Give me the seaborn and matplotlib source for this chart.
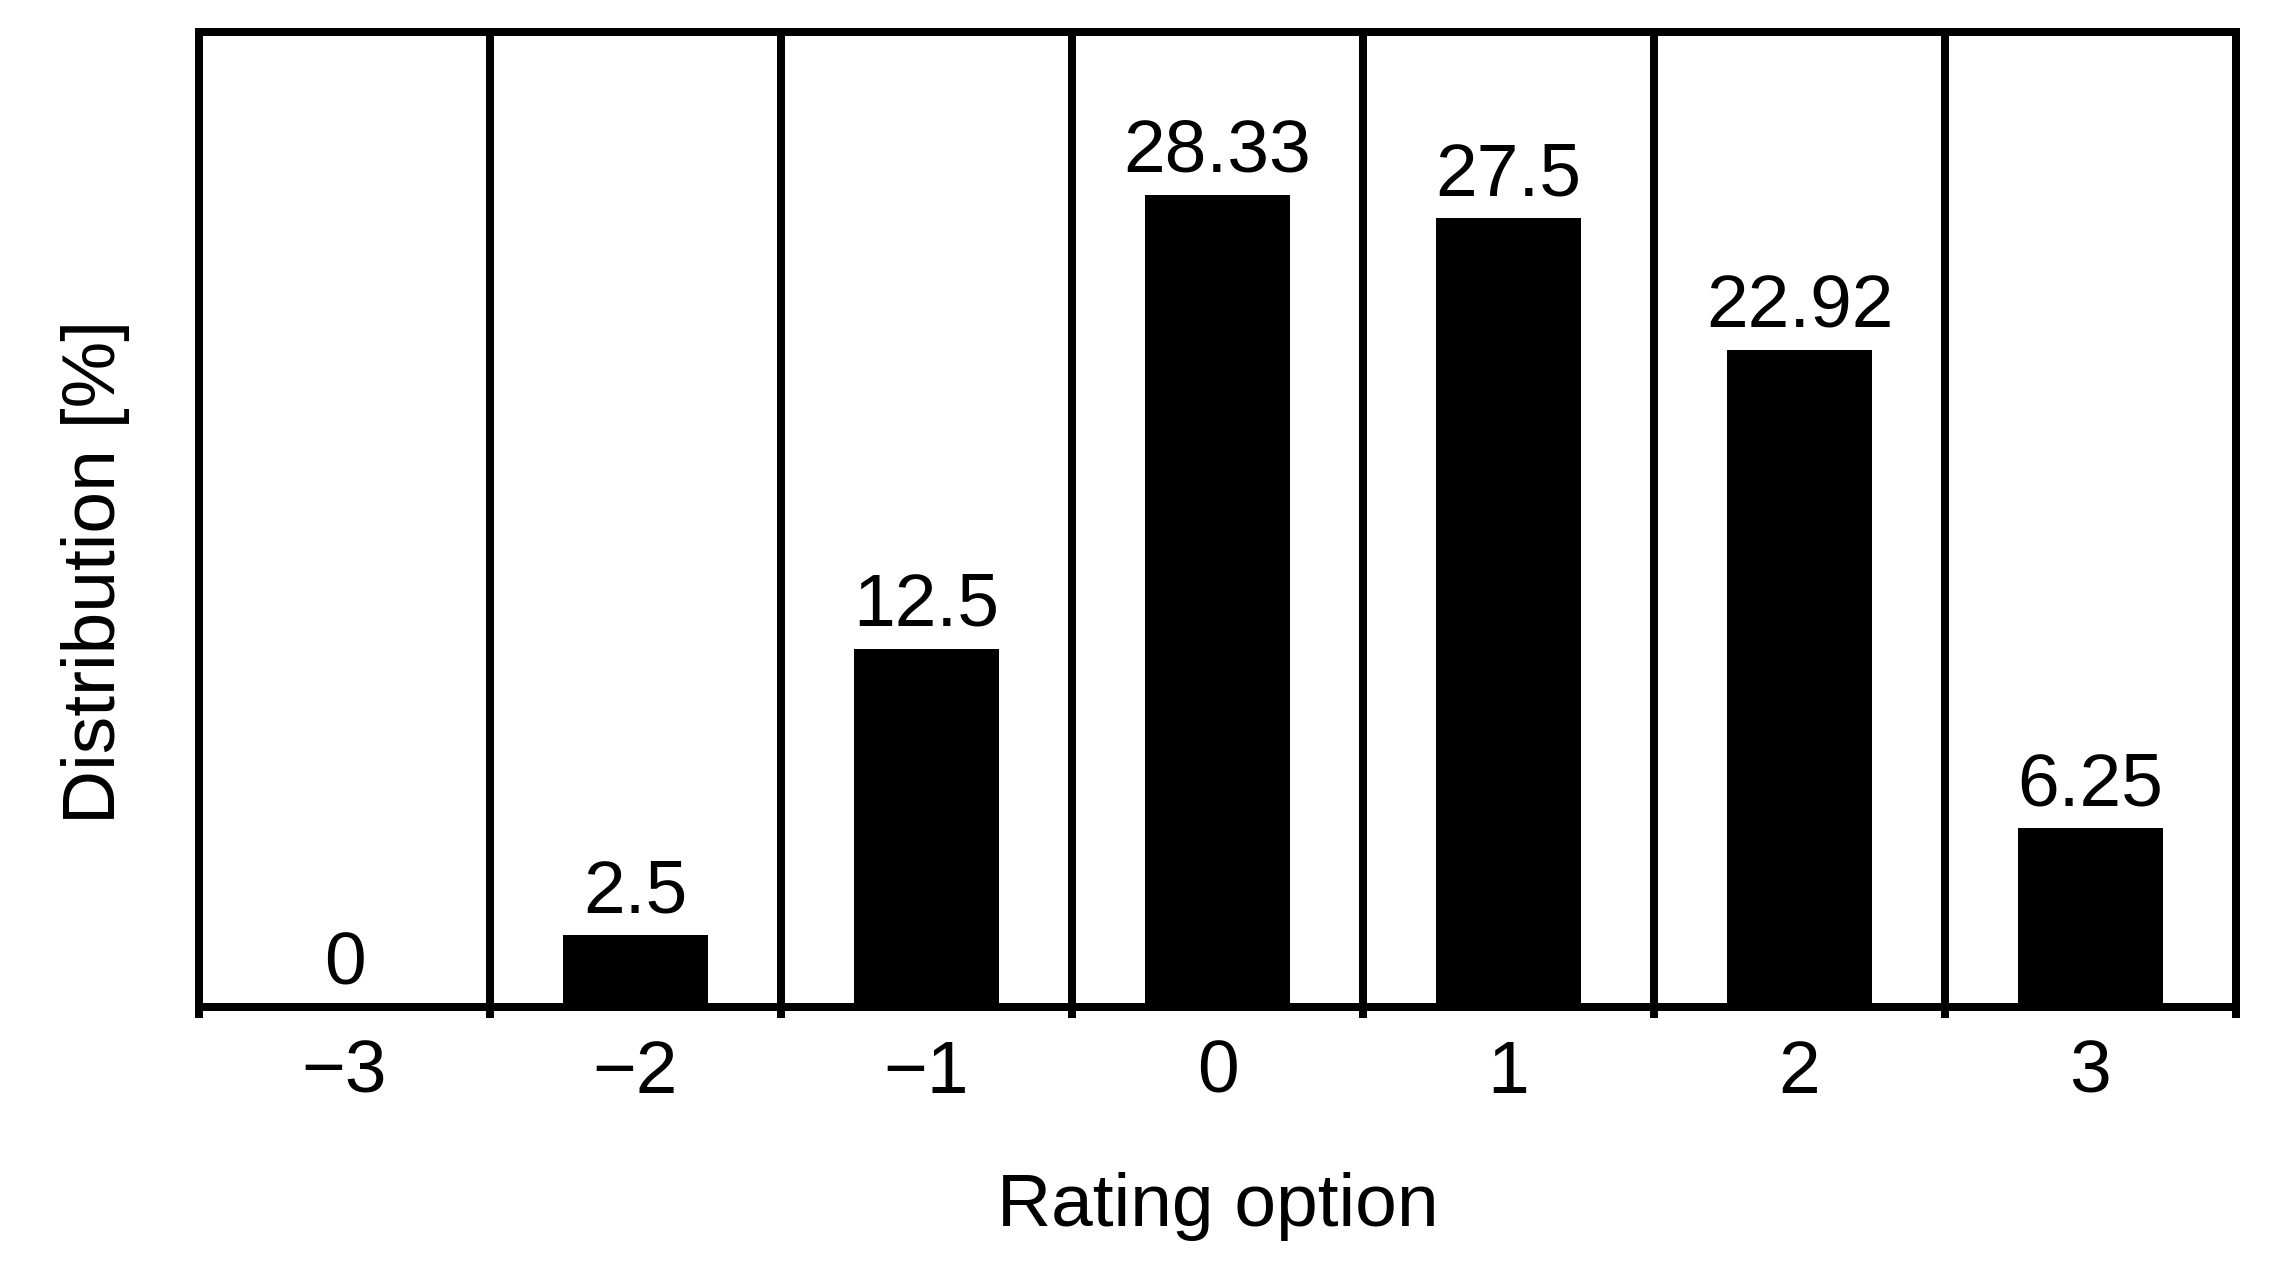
import numpy as np
import pandas as pd
import matplotlib
matplotlib.use("Agg")
import matplotlib.pyplot as plt
import seaborn as sns

# rating options and share of answers (%)
ratings = ["\u22123", "\u22122", "\u22121", "0", "1", "2", "3"]
shares = [0, 2.5, 12.5, 28.33, 27.5, 22.92, 6.25]
share_labels = ["0", "2.5", "12.5", "28.33", "27.5", "22.92", "6.25"]

df = pd.DataFrame({"rating": ratings, "share": shares})

sns.set_theme(style="white")
plt.rcParams["font.family"] = ["Liberation Sans", "DejaVu Sans"]
plt.rcParams["font.size"] = 54
plt.rcParams["text.color"] = "black"

lw = 5.76  # 8 px at 100 dpi

fig = plt.figure(figsize=(22.78, 12.65), dpi=100)
# axes box: x 199..2236 px, y 32..1007 px
ax = fig.add_axes([199 / 2278, 1 - 1007 / 1265, 2037 / 2278, 975 / 1265])

sns.barplot(data=df, x="rating", y="share", color="black", width=0.5,
            saturation=1, ax=ax, linewidth=0)

ax.set_xlim(-0.5, len(ratings) - 0.5)
ax.set_ylim(0, 34)
ax.set_yticks([])

# cell borders between rating options
bounds = np.arange(len(ratings) + 1) - 0.5
ax.set_xticks(bounds, minor=True)
ax.grid(True, which="minor", axis="x", color="black", linewidth=lw)
ax.tick_params(axis="x", which="minor", length=8, width=lw, color="black",
               direction="out", bottom=True)
ax.tick_params(axis="x", which="major", length=0, pad=23, labelsize=54,
               labelcolor="black")

for s in ax.spines.values():
    s.set_visible(True)
    s.set_color("black")
    s.set_linewidth(lw)

ax.bar_label(ax.containers[0], labels=share_labels, padding=5.5,
             fontsize=54, color="black")

ax.set_xlabel("Rating option", fontsize=54, color="black", labelpad=46)
ax.set_ylabel("Distribution [%]", fontsize=54, color="black")
ax.yaxis.set_label_coords(-0.034, 0.446)

fig.savefig("out.png", dpi=100, facecolor="white")
